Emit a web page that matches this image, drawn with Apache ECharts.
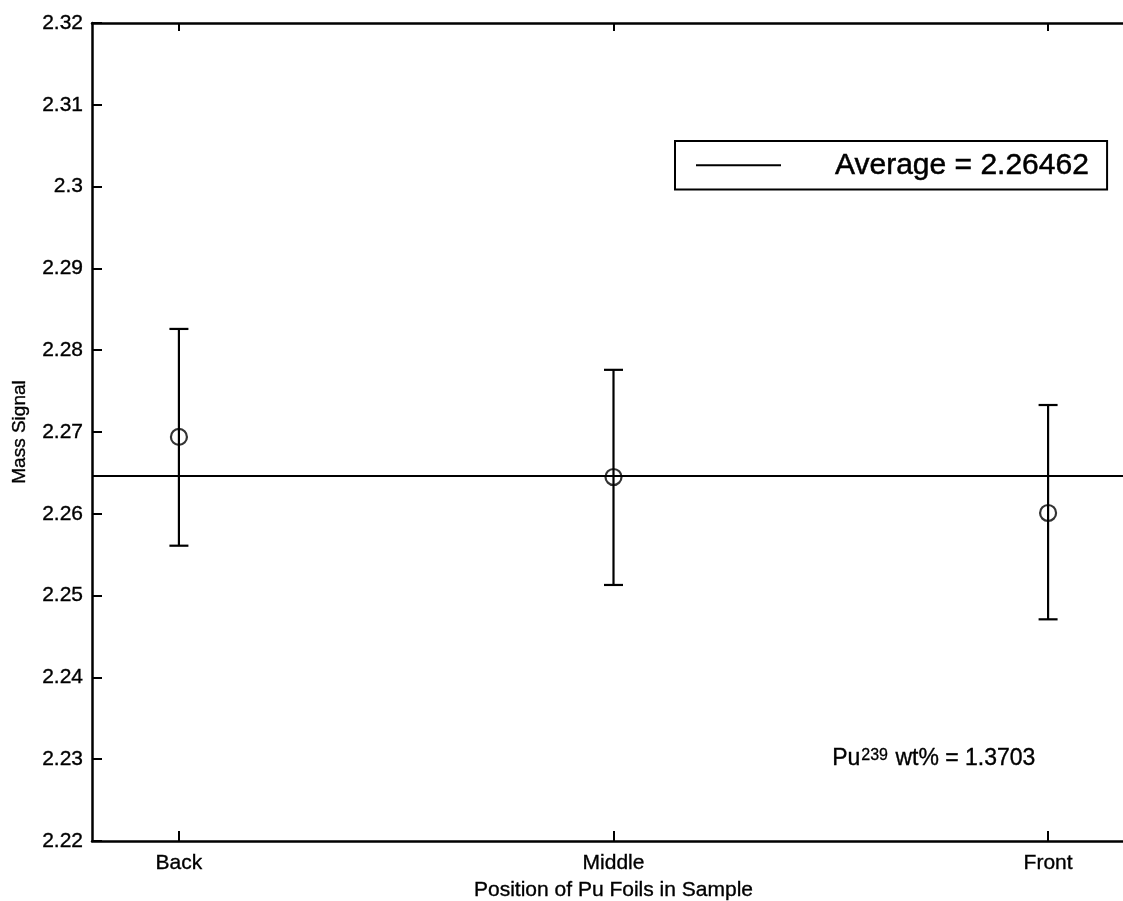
<!DOCTYPE html>
<html>
<head>
<meta charset="utf-8">
<script src="https://cdn.jsdelivr.net/npm/echarts@6/dist/echarts.min.js"></script>
<style>
  html, body { margin: 0; padding: 0; background: #fff; overflow: hidden; }
  #chart { width: 1123px; height: 901px; }
</style>
</head>
<body>
<div id="chart"></div>
<script>
// Foil positions along the sample and their x-axis labels
const categories = ['Back', 'Middle', 'Front'];
const positions = [1, 2, 3];
const xRange = [0.8, 3.2];

// Measured mass signal with lower / upper error limits
const massSignal = [2.2694, 2.2645, 2.2601];
const errLow = [2.2561, 2.2513, 2.2471];
const errHigh = [2.2826, 2.2776, 2.2733];

// Average of the three foils
const average = 2.26462;
const averageLabel = 'Average = 2.26462';

// Y ticks
const yMin = 2.22, yMax = 2.32, yStep = 0.01;

const FONT = "'Liberation Sans', Arial, Helvetica, sans-serif";
// slight stroke gives the glyphs a heavier, print-like weight
const INK = { color: '#000', textBorderColor: '#000', textBorderWidth: 0.35 };

const chart = echarts.init(document.getElementById('chart'));

const pointData = positions.map((x, i) => [x, massSignal[i]]);
const errData = positions.map((x, i) => [x, errLow[i], errHigh[i]]);
const avgData = xRange.map(x => [x, average]);

const axisLine = { show: true, onZero: false, lineStyle: { color: '#000', width: 2.5 } };
const tick = { show: true, inside: true, length: 10, lineStyle: { color: '#000', width: 2 } };

chart.setOption({
  backgroundColor: '#fff',
  animation: false,
  grid: { left: 92, top: 23, width: 1043, height: 818, containLabel: false, outerBoundsMode: 'none' },
  legend: {
    data: [{ name: averageLabel, icon: 'rect' }],
    left: 675,
    top: 141,
    orient: 'horizontal',
    backgroundColor: '#fff',
    borderColor: '#000',
    borderWidth: 2,
    borderRadius: 0,
    padding: [9, 18, 9, 21],
    itemWidth: 85,
    itemHeight: 2,
    itemStyle: { color: '#000', borderWidth: 0 },
    textStyle: Object.assign({ fontFamily: FONT, fontSize: 30, padding: [0, 0, 0, 49] }, INK, { textBorderWidth: 0.5 }),
    selectedMode: false
  },
  xAxis: [
    {
      type: 'value', position: 'bottom', min: xRange[0], max: xRange[1],
      axisLine: axisLine,
      axisTick: Object.assign({ customValues: positions }, tick),
      splitLine: { show: false },
      axisLabel: Object.assign({
        customValues: positions,
        margin: 12,
        fontFamily: FONT, fontSize: 21,
        formatter: v => categories[positions.indexOf(Math.round(v))] || ''
      }, INK),
      name: 'Position of Pu Foils in Sample',
      nameLocation: 'middle',
      nameGap: 38,
      nameTextStyle: Object.assign({ fontFamily: FONT, fontSize: 21 }, INK)
    },
    {
      type: 'value', position: 'top', min: xRange[0], max: xRange[1],
      axisLine: axisLine,
      axisTick: Object.assign({ customValues: positions }, tick, { length: 8 }),
      axisLabel: { show: false },
      splitLine: { show: false }
    }
  ],
  yAxis: [
    {
      type: 'value', position: 'left', min: yMin, max: yMax, interval: yStep,
      axisLine: axisLine,
      axisTick: tick,
      splitLine: { show: false },
      axisLabel: Object.assign({
        margin: 9,
        fontFamily: FONT, fontSize: 21,
        formatter: v => String(parseFloat(v.toFixed(2)))
      }, INK),
      name: 'Mass Signal',
      nameLocation: 'middle',
      nameGap: 63,
      nameTextStyle: Object.assign({ fontFamily: FONT, fontSize: 19 }, INK)
    },
    {
      type: 'value', position: 'right', min: yMin, max: yMax, interval: yStep,
      axisLine: axisLine,
      axisTick: tick,
      axisLabel: { show: false },
      splitLine: { show: false }
    }
  ],
  series: [
    {
      name: averageLabel,
      type: 'line',
      data: avgData,
      symbol: 'none',
      lineStyle: { color: '#000', width: 2 },
      itemStyle: { color: '#000' },
      z: 2
    },
    {
      name: 'errorbars',
      type: 'custom',
      data: errData,
      encode: { x: 0, y: [1, 2] },
      renderItem: function (params, api) {
        const x = api.value(0);
        const lo = api.coord([x, api.value(1)]);
        const hi = api.coord([x, api.value(2)]);
        const half = 9.5;
        const style = { stroke: '#000', lineWidth: 2.2, fill: null };
        return {
          type: 'group',
          children: [
            { type: 'line', shape: { x1: lo[0], y1: lo[1], x2: hi[0], y2: hi[1] }, style: style },
            { type: 'line', shape: { x1: hi[0] - half, y1: hi[1], x2: hi[0] + half, y2: hi[1] }, style: style },
            { type: 'line', shape: { x1: lo[0] - half, y1: lo[1], x2: lo[0] + half, y2: lo[1] }, style: style }
          ]
        };
      },
      z: 3
    },
    {
      name: 'points',
      type: 'scatter',
      data: pointData,
      symbol: 'circle',
      symbolSize: 16,
      itemStyle: { color: 'transparent', borderColor: '#000', borderWidth: 2.2 },
      z: 4
    }
  ],
  graphic: [
    {
      type: 'text',
      left: 832,
      top: 747,
      style: {
        text: '{base|Pu}{sup|239}{base| wt% = 1.3703}',
        fill: '#000',
        rich: {
          base: { fontFamily: FONT, fontSize: 23, lineHeight: 23, verticalAlign: 'bottom', fill: '#000', stroke: '#000', lineWidth: 0.35 },
          sup: { fontFamily: FONT, fontSize: 16, lineHeight: 16, verticalAlign: 'top', padding: [0, 1, 8, 1], fill: '#000', stroke: '#000', lineWidth: 0.3 }
        }
      }
    }
  ]
});
</script>
</body>
</html>
